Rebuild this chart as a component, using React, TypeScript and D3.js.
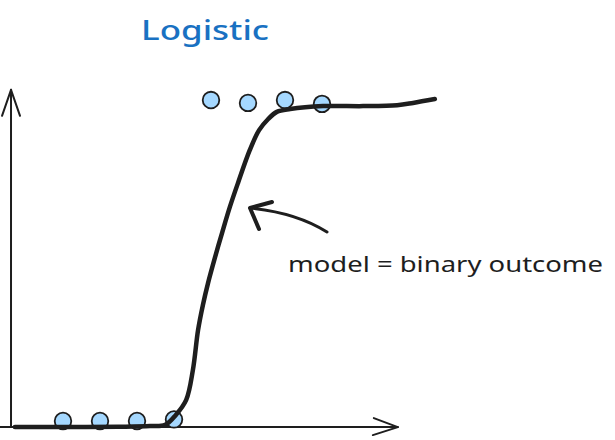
import * as d3 from "d3";
import React from "react";

// observations (x index, binary outcome)
const obsX = [1, 2, 3, 4, 5, 6, 7, 8];
const obsY = [0, 0, 0, 0.005, 1.003, 0.994, 1.003, 0.991];

// hand-drawn logistic fit
const fitX = [-0.3, 0.9, 2.5, 3.35, 3.76, 4.05, 4.33, 4.51, 4.65, 4.78, 4.92, 5.11, 5.3, 5.51, 5.73, 6.05, 6.3, 6.54, 6.78, 7.14, 8.03, 9.11, 10.03, 10.46, 11.05];
const fitY = [-0.019, -0.019, -0.018, -0.016, -0.012, 0.019, 0.066, 0.159, 0.284, 0.362, 0.431, 0.512, 0.588, 0.669, 0.744, 0.847, 0.909, 0.943, 0.966, 0.975, 0.984, 0.984, 0.987, 0.994, 1.006];

// axis extents in data units
const axisX = [-0.405, 10.05];
const axisY = [-0.019, 1.035];

const title = "Logistic";
const note = "model = binary outcome";

const INK = "#1e1e1e";
const BLUE = "#1971c2";
const DOT = "#a5d8ff";

const App = (): React.ReactElement => {
  const width = 615;
  const height = 440;

  const x = d3.scaleLinear().domain([1, 8]).range([63, 322]);
  const y = d3.scaleLinear().domain([0, 1]).range([421, 101]);

  const fit = d3
    .line<number>()
    .x((_, i) => x(fitX[i]))
    .y((d) => y(d))
    .curve(d3.curveCatmullRom.alpha(0.5));

  const x0 = x(axisX[0]);
  const x1 = x(axisX[1]);
  const yb = y(axisY[0]);
  const yt = y(axisY[1]);

  // annotation arrow pointing at the curve
  const arrow = d3.path();
  arrow.moveTo(327, 232);
  arrow.bezierCurveTo(305, 218, 280, 211, 250, 208);

  return (
    <svg
      width={width}
      height={height}
      style={{ position: "absolute", left: 0, top: 0, background: "#fff" }}
    >
      <text
        x={141}
        y={40}
        fill={BLUE}
        fontFamily="'Noto Sans', sans-serif"
        fontSize={27}
        fontWeight={500}
        textLength={128}
        lengthAdjust="spacingAndGlyphs"
      >
        {title}
      </text>

      {/* axes */}
      <g stroke={INK} strokeWidth={2} strokeLinecap="round" fill="none">
        <line x1={x0} y1={yb} x2={x0} y2={yt} />
        <polyline points={`${x0 - 9},${yt + 26} ${x0},${yt} ${x0 + 9},${yt + 26}`} strokeLinejoin="round" />
        <line x1={0} y1={yb} x2={x1} y2={yb} />
        <polyline points={`${x1 - 24},${yb - 9} ${x1},${yb} ${x1 - 25},${yb + 8}`} strokeLinejoin="round" />
      </g>

      {/* data points */}
      <g>
        {obsX.map((d, i) => (
          <circle
            key={i}
            cx={x(d)}
            cy={y(obsY[i])}
            r={8.3}
            fill={DOT}
            stroke={INK}
            strokeWidth={1.8}
          />
        ))}
      </g>

      {/* fitted curve */}
      <path
        d={fit(fitY) ?? ""}
        fill="none"
        stroke={INK}
        strokeWidth={4.5}
        strokeLinecap="round"
        strokeLinejoin="round"
      />

      {/* annotation */}
      <g stroke={INK} fill="none" strokeLinecap="round" strokeLinejoin="round">
        <path d={arrow.toString()} strokeWidth={3} />
        <polyline points="272,202 250,208 259,229" strokeWidth={4} />
      </g>
      <text
        x={288}
        y={272}
        fill={INK}
        fontFamily="'Noto Sans', sans-serif"
        fontSize={22}
        textLength={315}
        lengthAdjust="spacingAndGlyphs"
      >
        {note}
      </text>
    </svg>
  );
};

export default App;
